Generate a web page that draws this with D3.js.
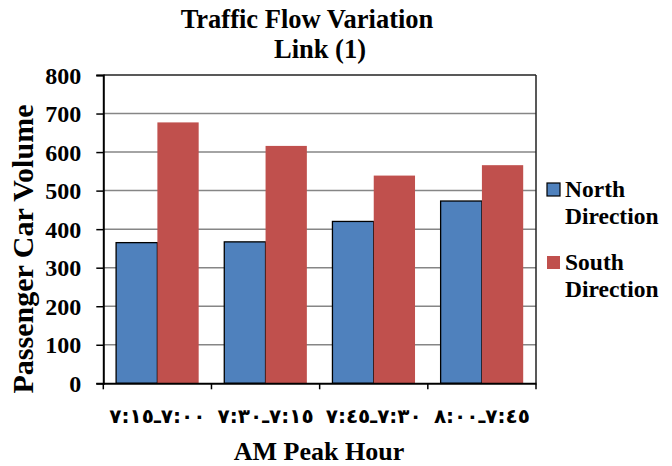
<!DOCTYPE html>
<html>
<head>
<meta charset="utf-8">
<script src="https://cdn.jsdelivr.net/npm/d3@7"></script>
<style>
  html, body { margin: 0; padding: 0; background: #fff; }
  svg { display: block; }
  text { font-family: "Liberation Serif", "Times New Roman", serif; font-weight: bold; fill: #000; }
</style>
</head>
<body>
<svg id="chart" width="672" height="466"></svg>
<script>
// Data
const categories = ["\u202D٧:١٥ـ٧:٠٠\u202C", "\u202D٧:٣٠ـ٧:١٥\u202C", "\u202D٧:٤٥ـ٧:٣٠\u202C", "\u202D٨:٠٠ـ٧:٤٥\u202C"];
const seriesNames = ["North Direction", "South Direction"];
const northValues = [365, 367, 420, 473];
const southValues = [677, 616, 539, 566];
const yTicks = [0, 100, 200, 300, 400, 500, 600, 700, 800];

const svg = d3.select("#chart");
const L = 103.3, R = 536, T = 75, B = 383.3;

const x = d3.scaleBand().domain(categories).range([L, R]).padding(0);
const xs = d3.scaleBand().domain(seriesNames).range([0, x.bandwidth()]).paddingInner(0).paddingOuter(0.31);
const y = d3.scaleLinear().domain([0, 800]).range([B, T]);
const color = d3.scaleOrdinal().domain(seriesNames).range(["#4F81BD", "#C0504D"]);

// gridlines
svg.append("g").selectAll("line").data(yTicks.filter(d => d > 0 && d < 800)).join("line")
  .attr("x1", L).attr("x2", R).attr("y1", d => y(d)).attr("y2", d => y(d))
  .attr("stroke", "#868686").attr("stroke-width", 1.5);

// plot border top/right
svg.append("line").attr("x1", L).attr("x2", R).attr("y1", T).attr("y2", T).attr("stroke", "#222").attr("stroke-width", 1.5);
svg.append("line").attr("x1", R).attr("x2", R).attr("y1", T).attr("y2", B).attr("stroke", "#222").attr("stroke-width", 1.5);

// bars
const rows = categories.map((c, i) => ({cat: c, vals: [
  {s: seriesNames[0], v: northValues[i]}, {s: seriesNames[1], v: southValues[i]}]}));
const groups = svg.append("g").selectAll("g").data(rows).join("g")
  .attr("transform", d => `translate(${x(d.cat)},0)`);
groups.selectAll("rect").data(d => d.vals).join("rect")
  .attr("x", d => xs(d.s)).attr("width", xs.bandwidth())
  .attr("y", d => y(d.v)).attr("height", d => B - y(d.v))
  .attr("fill", d => color(d.s))
  .attr("stroke", d => d.s === seriesNames[0] ? "#000" : "none")
  .attr("stroke-width", 1.3);

// y axis
const yAxis = d3.axisLeft(y).tickValues(yTicks).tickSize(7).tickPadding(15).tickFormat(d3.format("d"));
const gy = svg.append("g").attr("transform", `translate(${L},0)`).call(yAxis);
gy.select(".domain").attr("stroke", "#000").attr("stroke-width", 2);
gy.selectAll(".tick line").attr("stroke", "#000").attr("stroke-width", 1.5);
gy.selectAll(".tick text").style("font-family", "'Liberation Serif', serif").style("font-weight", "bold").style("font-size", "24px").attr("dy", "0.34em");

// x axis
const xAxis = d3.axisBottom(x).tickSize(0).tickPadding(26);
const gx = svg.append("g").attr("transform", `translate(0,${B})`).call(xAxis);
gx.select(".domain").attr("stroke", "#000").attr("stroke-width", 2);
gx.selectAll(".tick text").style("font-family", "'DejaVu Sans', sans-serif").style("font-weight", "bold").style("font-size", "20px");
// boundary ticks
const bounds = categories.map(c => x(c)).concat([R]);
svg.append("g").selectAll("line").data(bounds).join("line")
  .attr("x1", d => d).attr("x2", d => d).attr("y1", B).attr("y2", B + 6)
  .attr("stroke", "#000").attr("stroke-width", 1.5);

// titles
svg.append("text").attr("x", 307).attr("y", 28).attr("text-anchor", "middle").style("font-size", "26.5px").text("Traffic Flow Variation");
svg.append("text").attr("x", 320).attr("y", 58).attr("text-anchor", "middle").style("font-size", "26.5px").text("Link (1)");
svg.append("text").attr("x", 319).attr("y", 460).attr("text-anchor", "middle").style("font-size", "26px").text("AM Peak Hour");
svg.append("text").attr("transform", "translate(33,249) rotate(-90)").attr("text-anchor", "middle").style("font-size", "30px").text("Passenger Car Volume");

// legend
const leg = svg.append("g");
const legY = [197, 270];
seriesNames.forEach((s, i) => {
  leg.append("rect").attr("x", 547).attr("y", legY[i] - 14).attr("width", 13).attr("height", 13)
    .attr("fill", color(s)).attr("stroke", i === 0 ? "#000" : "none").attr("stroke-width", 1.2);
  const parts = s.split(" ");
  const t = leg.append("text").attr("x", 565).attr("y", legY[i]).style("font-size", "23.5px");
  t.append("tspan").attr("x", 565).text(parts[0]);
  t.append("tspan").attr("x", 565).attr("dy", 26.5).text(parts[1]);
});
</script>
</body>
</html>
